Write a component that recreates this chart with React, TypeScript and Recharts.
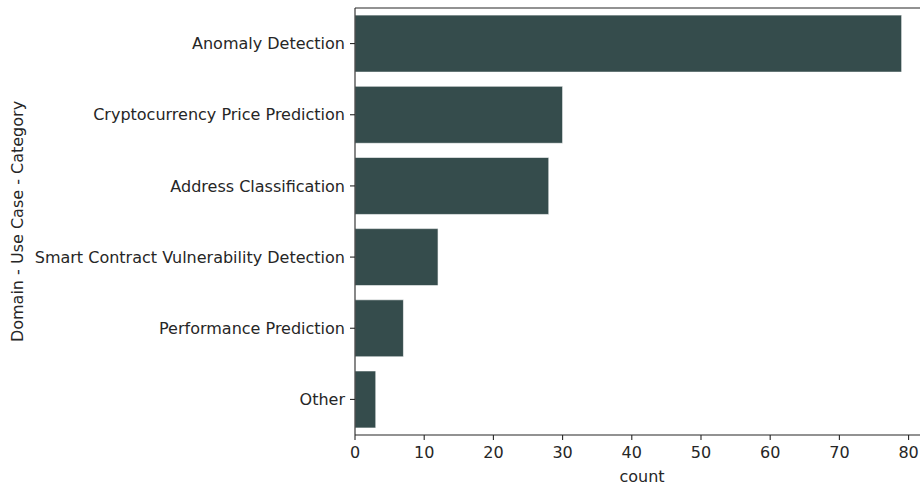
import { BarChart, Bar, XAxis, YAxis } from 'recharts';

const categories = [
  'Anomaly Detection',
  'Cryptocurrency Price Prediction',
  'Address Classification',
  'Smart Contract Vulnerability Detection',
  'Performance Prediction',
  'Other',
];
const counts = [79, 30, 28, 12, 7, 3];
const xTicks = [0, 10, 20, 30, 40, 50, 60, 70, 80];

const data = categories.map((name, i) => ({ name, count: counts[i] }));

const INK = '#262626';
const FONT = '"DejaVu Sans", sans-serif';
const FS = 16;
const domainMax = 79 * 1.05;

export default function App() {
  return (
    <div style={{ position: 'absolute', left: 0, top: 0, width: 920, height: 486, overflow: 'hidden', background: '#fff' }}>
      <BarChart
        width={940}
        height={486}
        data={data}
        layout="vertical"
        barCategoryGap="10%"
        margin={{ top: 7, right: 11, bottom: 0, left: 0 }}
        style={{ fontFamily: FONT }}
      >
        <XAxis
          type="number"
          xAxisId="bottom"
          domain={[0, domainMax]}
          ticks={xTicks}
          height={51}
          tickSize={5}
          tickMargin={7}
          axisLine={{ stroke: INK, strokeWidth: 1.1 }}
          tickLine={{ stroke: INK, strokeWidth: 1.1 }}
          tick={{ fill: INK, fontSize: FS, fontFamily: FONT }}
          label={{ value: 'count', position: 'insideBottom', offset: 4, fill: INK, fontSize: FS, fontFamily: FONT }}
        />
        <XAxis
          type="number"
          xAxisId="top"
          orientation="top"
          domain={[0, domainMax]}
          height={1}
          tick={false}
          tickLine={false}
          axisLine={{ stroke: INK, strokeWidth: 1.1 }}
        />
        <YAxis
          type="category"
          dataKey="name"
          width={355}
          tickSize={5}
          tickMargin={5}
          axisLine={{ stroke: INK, strokeWidth: 1.1 }}
          tickLine={{ stroke: INK, strokeWidth: 1.1 }}
          tick={{ fill: INK, fontSize: FS, fontFamily: FONT }}
          label={{
            value: 'Domain - Use Case - Category',
            angle: -90,
            position: 'insideLeft',
            offset: 17,
            fill: INK,
            fontSize: FS,
            fontFamily: FONT,
            style: { textAnchor: 'middle' },
          }}
        />
        <Bar
          dataKey="count"
          xAxisId="bottom"
          fill="#354c4c"
          stroke="#ffffff"
          strokeWidth={0.6}
          isAnimationActive={false}
        />
      </BarChart>
    </div>
  );
}
